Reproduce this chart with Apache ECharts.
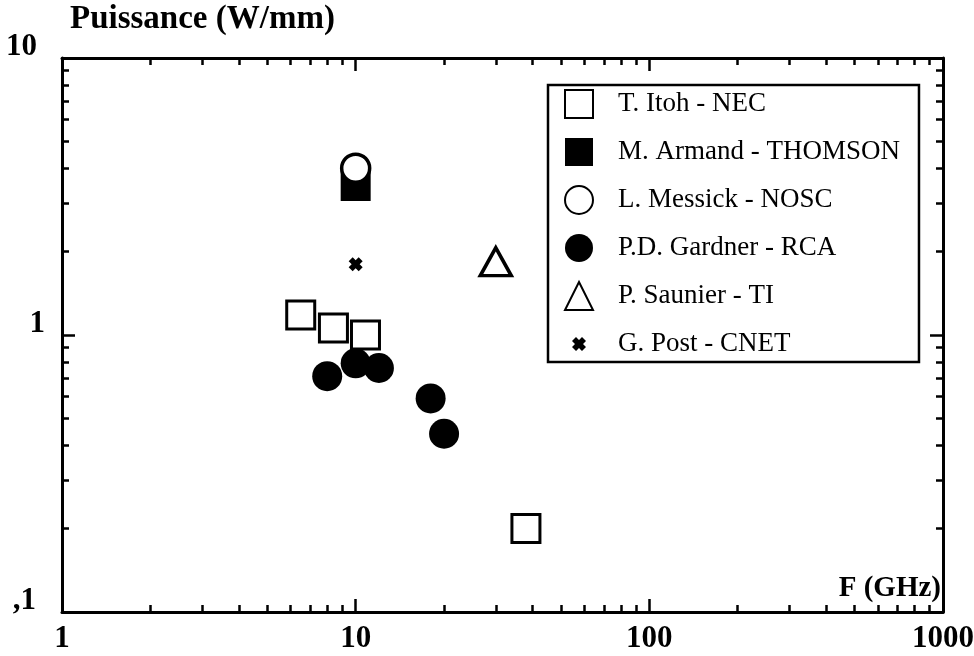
<!DOCTYPE html>
<html>
<head>
<meta charset="utf-8">
<script src="https://cdn.jsdelivr.net/npm/echarts@6/dist/echarts.min.js"></script>
<style>
  html, body { margin: 0; padding: 0; background: #fff; }
  #chart { width: 974px; height: 656px; }
</style>
</head>
<body>
<div id="chart"></div>
<script>
// Axis ticks (log scales) and their printed labels
const xTicks = [1, 10, 100, 1000];
const xTickLabels = ['1', '10', '100', '1000'];
const xMinorTicks = [2, 3, 4, 5, 6, 7, 8, 9, 20, 30, 40, 50, 60, 70, 80, 90, 200, 300, 400, 500, 600, 700, 800, 900];
const yTicks = [0.1, 1, 10];
const yTickLabels = [',1', '1', '10'];
const yMinorTicks = [0.2, 0.3, 0.4, 0.5, 0.6, 0.7, 0.8, 0.9, 2, 3, 4, 5, 6, 7, 8, 9];

// Output power per gate width (W/mm) versus frequency (GHz)
const seriesNames = ['T. Itoh - NEC', 'M. Armand - THOMSON', 'L. Messick - NOSC', 'P.D. Gardner - RCA', 'P. Saunier - TI', 'G. Post - CNET'];
const itohNEC = [[6.5, 1.18], [8.4, 1.06], [10.8, 1.0], [38, 0.2]];
const armandThomson = [[10, 3.45]];
const messickNOSC = [[10, 4.0]];
const gardnerRCA = [[8, 0.71], [10, 0.79], [12, 0.76], [18, 0.59], [20, 0.44]];
const saunierTI = [[30, 1.84]];
const postCNET = [[10, 1.8]];

const serif = "'Liberation Serif', 'Times New Roman', serif";
const black = '#000';

// bold X mark; the two tiny corner triangles keep the glyph at half the symbol box
const crossPath = 'path://M0,0L0.01,0L0,0.01ZM28,28L27.99,28L28,27.99Z' +
  'M7,11L11,7L14,10L17,7L21,11L18,14L21,17L17,21L14,18L11,21L7,17L10,14Z';

function tickIndex(list, v) {
  return list.findIndex(t => Math.abs(Math.log10(t) - Math.log10(v)) < 1e-6);
}

function logAxis(extra, min, max) {
  return Object.assign({
    type: 'log', logBase: 10, min: min, max: max,
    splitLine: { show: false },
    axisLine: { show: false },
    axisLabel: { show: false },
    axisTick: { show: false }
  }, extra);
}

const majorTick = (vals) => ({ show: true, inside: true, length: 13, customValues: vals, lineStyle: { color: black, width: 2.5 } });
const minorTick = (vals) => ({ show: true, inside: true, length: 7, customValues: vals, lineStyle: { color: black, width: 2.5 } });
const frameLine = { show: true, lineStyle: { color: black, width: 3 } };

const chart = echarts.init(document.getElementById('chart'), null, { renderer: 'canvas' });

chart.setOption({
  animation: false,
  backgroundColor: '#fff',
  grid: { left: 62, right: 31, top: 58, bottom: 44, containLabel: false, outerBoundsMode: 'none' },
  xAxis: [
    logAxis({
      position: 'bottom',
      axisLine: frameLine,
      axisTick: majorTick(xTicks),
      axisLabel: {
        show: true, customValues: xTicks, margin: 11,
        fontFamily: serif, fontSize: 31, fontWeight: 'bold', color: black,
        formatter: v => xTickLabels[tickIndex(xTicks, v)]
      },
      name: 'F (GHz)', nameLocation: 'end', nameGap: -2,
      nameTextStyle: { fontFamily: serif, fontSize: 29, fontWeight: 'bold', color: black, align: 'right', verticalAlign: 'bottom', padding: [0, 0, 9, 0] }
    }, 1, 1000),
    logAxis({ position: 'bottom', axisTick: minorTick(xMinorTicks) }, 1, 1000),
    logAxis({ position: 'top', axisLine: frameLine, axisTick: majorTick(xTicks) }, 1, 1000),
    logAxis({ position: 'top', axisTick: minorTick(xMinorTicks) }, 1, 1000)
  ],
  yAxis: [
    logAxis({
      position: 'left',
      axisLine: frameLine,
      axisTick: majorTick(yTicks),
      axisLabel: {
        show: true, customValues: yTicks, margin: 17,
        fontFamily: serif, fontSize: 31, fontWeight: 'bold', color: black,
        formatter: v => { const i = tickIndex(yTicks, v); return '{l' + i + '|' + yTickLabels[i] + '}'; },
        rich: {
          l0: { fontFamily: serif, fontSize: 31, fontWeight: 'bold', color: black, padding: [0, 9, 22, 0] },
          l1: { fontFamily: serif, fontSize: 31, fontWeight: 'bold', color: black, padding: [0, 0, 22, 0] },
          l2: { fontFamily: serif, fontSize: 31, fontWeight: 'bold', color: black, padding: [0, 8, 22, 0] }
        }
      },
      name: 'Puissance (W/mm)', nameLocation: 'end', nameGap: 22,
      nameTextStyle: { fontFamily: serif, fontSize: 33, fontWeight: 'bold', color: black, align: 'left', verticalAlign: 'bottom', padding: [0, 0, 0, 8] }
    }, 0.1, 10),
    logAxis({ position: 'left', axisTick: minorTick(yMinorTicks) }, 0.1, 10),
    logAxis({ position: 'right', axisLine: frameLine, axisTick: majorTick(yTicks) }, 0.1, 10),
    logAxis({ position: 'right', axisTick: minorTick(yMinorTicks) }, 0.1, 10)
  ],
  legend: {
    orient: 'vertical', left: 548, top: 85,
    itemWidth: 28, itemHeight: 28, itemGap: 19,
    padding: [4, 19, 4, 16],
    borderColor: black, borderWidth: 2.5, backgroundColor: '#fff',
    selectedMode: false,
    textStyle: { fontFamily: serif, fontSize: 27, color: black, padding: [0, 0, 0, 20] },
    data: seriesNames
  },
  series: [
    {
      name: seriesNames[0], type: 'scatter', data: itohNEC,
      symbol: 'rect', symbolSize: 28,
      itemStyle: { color: '#fff', borderColor: black, borderWidth: 3, opacity: 1 }
    },
    {
      name: seriesNames[1], type: 'scatter', data: armandThomson,
      symbol: 'rect', symbolSize: 30,
      itemStyle: { color: black, borderWidth: 0, opacity: 1 }
    },
    {
      name: seriesNames[2], type: 'scatter', data: messickNOSC,
      symbol: 'circle', symbolSize: 28,
      itemStyle: { color: '#fff', borderColor: black, borderWidth: 3.5, opacity: 1 }
    },
    {
      name: seriesNames[3], type: 'scatter', data: gardnerRCA,
      symbol: 'circle', symbolSize: 30,
      itemStyle: { color: black, borderWidth: 0, opacity: 1 }
    },
    {
      name: seriesNames[4], type: 'scatter', data: saunierTI,
      symbol: 'triangle', symbolSize: [31, 28],
      itemStyle: { color: '#fff', borderColor: black, borderWidth: 3.5, opacity: 1 }
    },
    {
      name: seriesNames[5], type: 'scatter', data: postCNET,
      symbol: crossPath, symbolSize: 28,
      itemStyle: { color: black, borderWidth: 0, opacity: 1 }
    }
  ]
});
</script>
</body>
</html>
